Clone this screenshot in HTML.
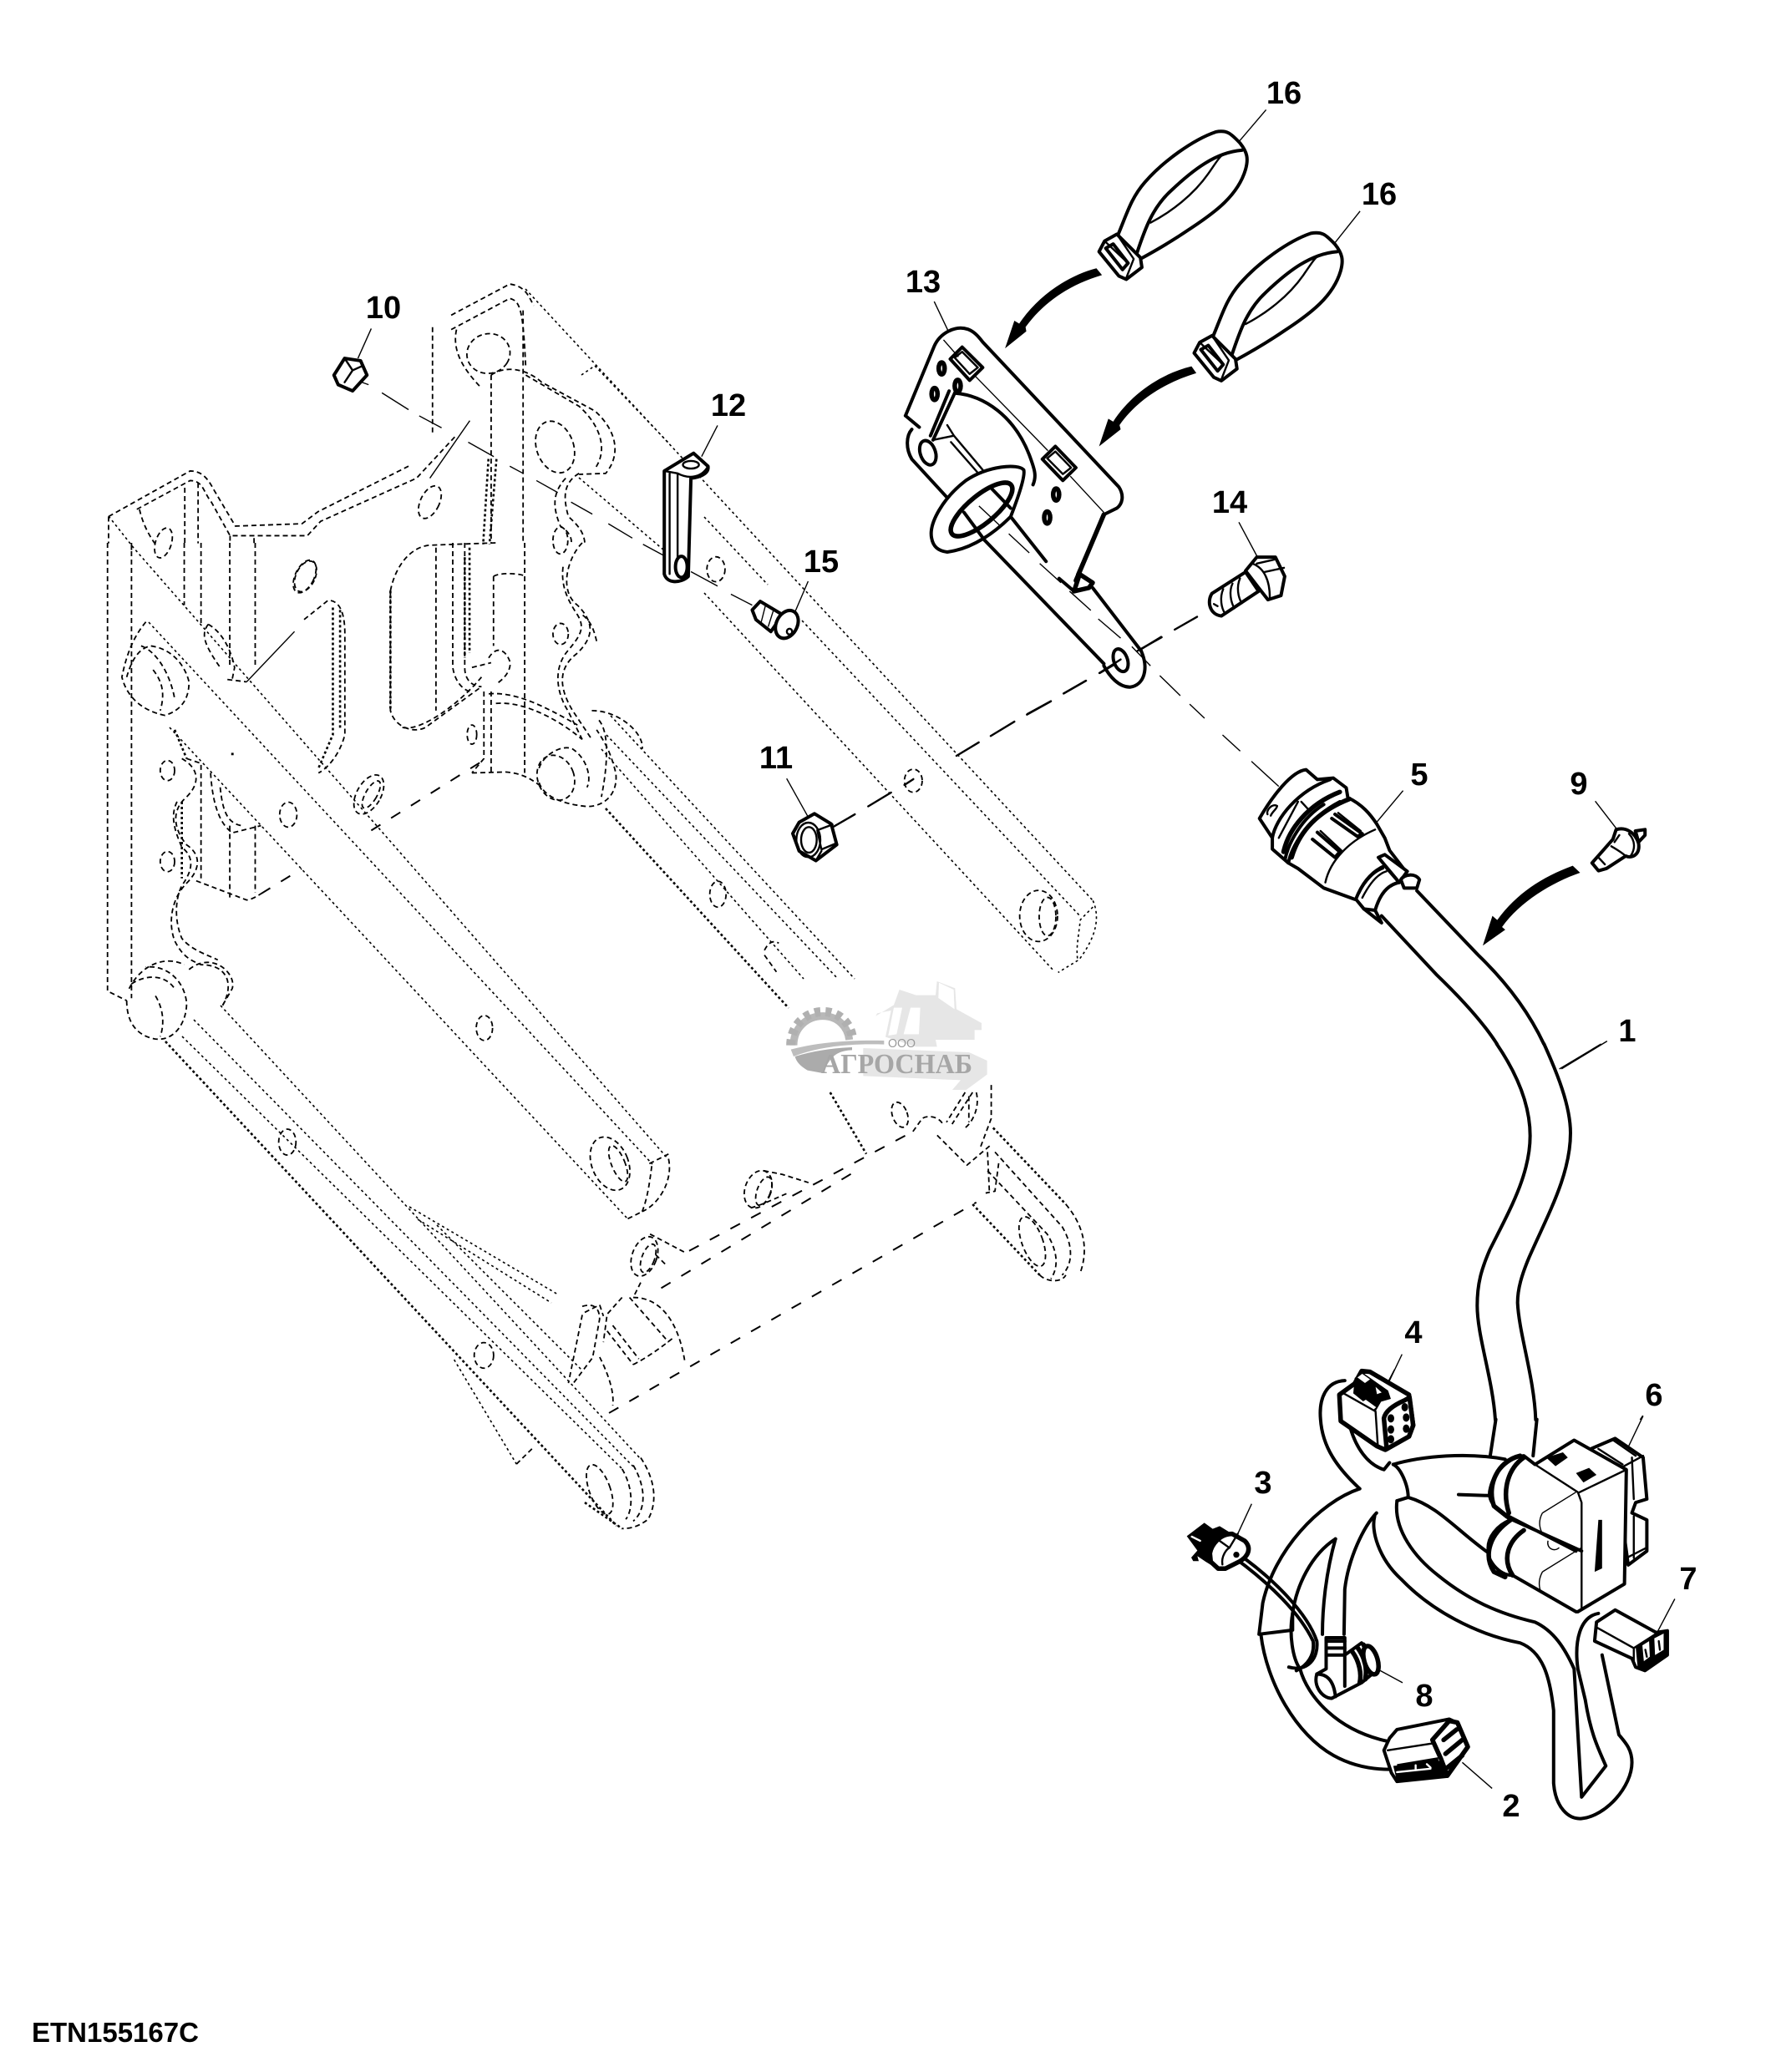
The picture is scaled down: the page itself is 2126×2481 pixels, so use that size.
<!DOCTYPE html>
<html><head><meta charset="utf-8"><style>
html,body{margin:0;padding:0;background:#fff}
svg{display:block}
svg *{vector-effect:non-scaling-stroke}
g{fill:none;stroke:#000;stroke-linecap:butt;stroke-linejoin:round}
.k{stroke-width:4;stroke-linecap:round}.m{stroke-width:2.4;stroke-linecap:round}.l{stroke-width:1.4}
.K{stroke-width:5.5;stroke-linecap:round}
.d{stroke-width:1.6;stroke-dasharray:3 3.5}
.dd{stroke-width:1.8;stroke-dasharray:6 4}
.t{stroke-width:2.6;stroke-dasharray:3 3}
.bd{stroke-width:2;stroke-dasharray:13 15}
.w{fill:#fff}.b{fill:#000;stroke:none}
text.n{font:bold 38px "Liberation Sans",sans-serif;fill:#000;stroke:none;text-anchor:middle}
</style></head><body>
<svg xmlns="http://www.w3.org/2000/svg" width="2126" height="2481" viewBox="0 0 2126 2481">
<rect width="2126" height="2481" fill="#fff"/>

<!-- FRAME: long lines in true px -->
<g>
<g class="d">
<path d="M629 346L1308 1078M696 449L712 438L800 530M843 619L919 700M960 743L1293 1097M843 710L1262 1163M693 572L795 659"/>
<path d="M731 857L1023 1172M726 880L1003 1172M720 897L962 1172"/>
<path d="M130 618L160 656L800 1388M178 745L781 1394M203 871L751 1459"/>
<path d="M264 1204L767 1747M232 1221L758 1756M218 1241L745 1759"/>
<path d="M490 1445L668 1550M500 1460L660 1560M523 1467L697 1641"/>
</g>
<path class="t" d="M198 1247L738 1827"/>
<path class="t" d="M725 968L944 1207"/>
</g>

<!-- FRAME upper (zoom3 space) -->
<g transform="translate(100,320) scale(.6378,.574)">
<g class="dd">
<path d="M47 520V576M90 590V576"/>
<path d="M47 520L200 425C225 425 235 445 245 465L285 540L410 535L440 510L610 415"/>
<path d="M100 505L200 445C225 445 225 470 240 490L275 560L420 560L445 530L625 440L700 350"/>
<path d="M105 505C110 530 120 555 135 578M190 460V576M215 450V576M320 565V576M275 560V576"/>
<path d="M655 125V350M690 100L800 35C830 40 835 60 845 80M690 130L800 65C820 70 825 90 830 210"/>
<path d="M700 130C690 180 720 220 745 250M765 225V576M825 90V576"/>
<path d="M765 225C790 205 830 210 860 240L960 300C1000 340 1010 390 980 430L930 432"/>
<path d="M830 225L930 290C970 330 985 380 960 420"/>
<path d="M930 430C900 450 900 480 910 520C930 540 940 555 941 578"/>
<path d="M905 440C880 470 880 500 895 540C910 550 918 565 915 578"/>
<ellipse cx="150" cy="575" rx="15" ry="32" transform="rotate(15 150 575)"/>
<ellipse cx="415" cy="645" rx="18" ry="36" transform="rotate(22 415 645)"/>
<ellipse cx="650" cy="490" rx="18" ry="36" transform="rotate(22 650 490)"/>
<ellipse cx="885" cy="375" rx="35" ry="55" transform="rotate(-15 885 375)"/>
<ellipse cx="760" cy="180" rx="40" ry="42" transform="rotate(30 760 180)"/>
<ellipse cx="895" cy="570" rx="14" ry="28"/>
<ellipse cx="1187" cy="630" rx="17" ry="26"/>
</g>
<path class="t" d="M760 400L750 578M775 400L762 578"/>
<path class="l" d="M650 440L725 320"/>
<path class="l" d="M510 235L535 245M560 262L610 297M630 310L672 335M722 365L770 395M800 415L825 430M850 445L890 470M915 490L955 515M985 535L1030 565M1050 578L1090 602M1140 635L1190 665M1215 682L1255 705"/>
<!-- nut 10 -->
<path class="k w" d="M470 225L490 190L520 195L532 225L505 258L478 245Z"/>
<path class="m" d="M490 190L505 215L490 240M505 215L525 205"/>
<path class="l" d="M540 128L515 190"/>
<!-- clip 12 -->
<path class="k w" d="M1090 425L1145 388L1172 415C1175 435 1145 440 1140 440L1135 645C1120 660 1095 660 1090 640Z"/>
<path class="m" d="M1100 430V640M1115 430C1135 442 1160 440 1172 415M1115 430V610M1090 425L1115 430"/>
<ellipse class="m" cx="1140" cy="412" rx="15" ry="8"/>
<ellipse class="k w" cx="1122" cy="625" rx="11" ry="22"/>
<path class="l" d="M1190 330L1160 395"/>
<!-- bolt 15 -->
<path class="k w" d="M1255 715L1270 697L1312 725L1290 760L1262 735Z"/>
<path class="l" d="M1280 705L1272 740M1295 715L1285 750"/>
<ellipse class="k w" cx="1320" cy="745" rx="20" ry="30" transform="rotate(20 1320 745)"/>
<ellipse class="m" cx="1325" cy="760" rx="5" ry="6"/>
<path class="l" d="M1360 655L1335 720"/>
</g>

<!-- FRAME mid (crop A space) -->
<g transform="translate(100,650) scale(.574)">
<g class="dd">
<path d="M50 0V935L90 955M100 0V950"/>
<path d="M210 0V130M245 0V170M305 0V255M358 0V260M260 170C280 180 305 210 315 260L310 285"/>
<path d="M300 285L340 290M460 160L510 120C540 120 545 160 545 190V400C535 440 510 470 490 480"/>
<path d="M130 165C105 195 90 230 80 280C90 320 120 350 170 360C200 350 220 330 220 290C210 250 180 220 140 215C115 220 100 245 90 280"/>
<path d="M120 215C150 225 180 270 190 325M145 265C165 290 170 315 160 350"/>
<path d="M260 170C245 190 250 210 285 260"/>
<ellipse cx="463" cy="70" rx="20" ry="34" transform="rotate(25 463 70)"/>
<ellipse cx="595" cy="525" rx="25" ry="45" transform="rotate(30 595 525)"/>
<ellipse cx="600" cy="525" rx="12" ry="32" transform="rotate(30 600 525)"/>
<ellipse cx="175" cy="475" rx="15" ry="21"/><ellipse cx="175" cy="665" rx="15" ry="21"/>
<ellipse cx="836" cy="1012" rx="17" ry="26"/><ellipse cx="427" cy="567" rx="18" ry="26"/><ellipse cx="425" cy="1250" rx="18" ry="27"/>
<ellipse cx="1323" cy="733" rx="17" ry="27"/>
<ellipse cx="995" cy="190" rx="16" ry="22"/><ellipse cx="810" cy="400" rx="10" ry="20"/>
<path d="M205 450C240 470 245 500 215 530C180 560 190 600 215 630C245 650 245 680 215 710C185 740 175 790 190 830C205 860 220 870 245 880C300 880 315 920 290 965"/>
<path d="M215 450L245 460V700M195 540C180 570 190 600 205 635C230 655 230 680 205 715C190 745 190 790 205 825C225 850 260 860 280 870"/>
<path d="M305 590V740M358 590V730M235 705L340 745C350 745 365 735 370 732"/>
<path d="M265 480C270 560 290 590 310 605L370 590M285 510C290 560 300 585 330 590"/>
<path d="M640 100C650 50 680 10 720 5L860 0M640 100V350C650 390 700 400 720 380L830 300"/>
<path d="M665 385C700 395 780 340 830 280M735 10V350M770 0V260C775 290 790 305 805 310M795 0V260C795 290 815 300 830 300M855 70C870 60 920 65 920 70M855 70V215M920 0V480"/>
<path d="M835 310V450L810 480M850 310V480M810 480L880 478C910 480 930 490 950 505"/>
<path d="M845 315C900 310 960 340 1030 380M860 335C910 330 980 360 1040 410"/>
<path d="M845 240C860 215 880 220 890 250C890 270 875 285 860 295M810 260L850 250"/>
<path d="M1040 0C1010 30 990 100 1030 130C1070 170 1060 200 1030 230C990 260 990 300 1020 350L1060 410M1070 205C1065 185 1060 165 1040 150M1000 50C995 90 1010 120 1030 150C1045 175 1040 190 1010 225C980 260 985 310 1010 350L1040 410"/>
<ellipse cx="985" cy="490" rx="38" ry="48" transform="rotate(-20 985 490)"/>
<path d="M950 470C960 440 1000 420 1020 430C1050 450 1060 490 1050 510M950 500C960 530 1000 545 1050 550C1090 550 1115 520 1110 480C1100 440 1090 420 1070 390"/>
<path d="M1060 350C1120 350 1170 400 1165 430M1075 370C1100 400 1090 480 1080 530"/>
<path d="M1420 850C1430 830 1440 830 1450 835M1420 860L1445 895"/>
<path d="M90 955C90 1010 120 1030 150 1035C190 1040 215 1000 215 960C210 910 170 880 130 885M95 930C120 880 170 860 210 880M100 920C130 900 170 900 190 930M150 945C165 970 170 1000 160 1030"/>
<path d="M220 890C270 850 320 900 310 930L290 965"/>
</g>
<path class="t" d="M640 100V350M795 30V240M805 10V230M520 135V400L490 470M535 140V390M205 540V700"/>
<path class="l" d="M340 290L440 185"/>
<path class="bd" d="M600 600L840 450M370 732L455 680"/>
<path class="t" d="M190 390L215 450"/>
<path class="b" d="M308 438h5v5h-5z"/>
<!-- arm1 end -->
<g class="dd">
<path d="M1220 1285C1230 1330 1200 1380 1165 1395M1185 1300C1180 1340 1175 1370 1165 1395M1135 1410L1165 1395M1180 1295L1220 1275"/>
<ellipse cx="1098" cy="1295" rx="38" ry="58" transform="rotate(-22 1098 1295)"/>
<ellipse cx="1115" cy="1295" rx="14" ry="40" transform="rotate(-22 1115 1295)"/>
</g>
</g>

<!-- FRAME lower-left (zoom6 space) -->
<g transform="translate(100,1100) scale(.8292,.5102)">
<path class="d" d="M535 1035L625 1280"/>
<g class="dd">
<ellipse cx="578" cy="1025" rx="14" ry="30"/>
<path d="M625 1280L650 1240"/>
<path d="M720 910C740 900 745 920 745 940L735 1030L705 1095M720 930L710 1010L700 1090"/>
</g>
</g>

<!-- FRAME lower-right (crop B space) -->
<g transform="translate(700,1250) scale(.4464)">
<path class="bd" d="M280 555L880 235M205 655L720 345M65 990L1050 425"/>
<path class="t" d="M658 130L755 295M1040 430L1220 620M0 1230L100 1300M1095 225L1290 430"/>
<g class="dd">
<ellipse cx="465" cy="390" rx="35" ry="52" transform="rotate(20 465 390)"/>
<ellipse cx="480" cy="395" rx="18" ry="40" transform="rotate(20 480 395)"/>
<path d="M480 340L530 350L600 372M445 440C480 430 520 410 545 400"/>
<ellipse cx="160" cy="570" rx="33" ry="55" transform="rotate(20 160 570)"/>
<ellipse cx="170" cy="575" rx="17" ry="40" transform="rotate(20 170 575)"/>
<path d="M175 510L270 560M190 565L220 595M150 640L130 680"/>
<path d="M130 680C200 680 250 740 268 850M120 680L225 800M60 770L130 860M75 755L145 845M130 860C170 840 210 810 235 790M100 680L60 725L50 800M40 840C60 880 80 930 75 970"/>
<path d="M0 720L40 700L50 730"/>
<ellipse cx="845" cy="190" rx="20" ry="35" transform="rotate(-20 845 190)"/>
<path d="M880 235L905 200C920 190 950 195 960 215"/>
<path d="M1090 110V200L1060 280M1050 130C1060 170 1040 210 1020 225M1020 130L970 210M1040 130L985 215M945 245L1025 325L1090 270M1080 290L1085 395M1110 320L1100 395L1075 400M1030 140V210"/>
<path d="M150 1110C190 1170 195 1230 170 1275C150 1290 130 1300 100 1300M130 1130C165 1190 165 1250 130 1280M100 1140C130 1190 130 1250 110 1275"/>
<ellipse cx="40" cy="1195" rx="28" ry="70" transform="rotate(-20 40 1195)"/>
<path d="M1290 430C1340 490 1350 550 1330 610M1100 290L1280 490C1310 540 1310 590 1280 620M1080 340L1240 510C1270 560 1270 600 1250 630M1220 620C1240 640 1280 640 1290 620"/>
<ellipse cx="1200" cy="530" rx="28" ry="70" transform="rotate(-20 1200 530)"/>
</g>
</g>

<!-- axis, arm 3 end & nut 11 (zoom8 space) -->
<g transform="translate(900,600) scale(.3333,.3827)">
<g class="d"><path d="M1225 1250C1250 1300 1240 1360 1175 1435L1100 1475M1225 1270L1180 1310C1170 1380 1165 1400 1170 1435"/></g>
<g class="dd">
<ellipse cx="580" cy="875" rx="32" ry="36"/>
<ellipse cx="1030" cy="1298" rx="68" ry="80"/>
<ellipse cx="1062" cy="1300" rx="30" ry="60"/>
</g>
<path class="m" d="M1470 425L1395 465M1325 500L1250 538M1200 562L1120 602M1073 627L988 668M943 690L858 735M815 755L735 797M500 912L418 955M370 980L295 1018M580 870L548 888"/>
<path class="k w" d="M147 1040L170 1005L225 978L285 1010L305 1075L230 1125L170 1095Z"/>
<ellipse class="m" cx="203" cy="1060" rx="43" ry="54"/>
<ellipse class="m" cx="205" cy="1060" rx="28" ry="40"/>
<path class="m" d="M235 1030L290 1012M235 1030L250 1090M250 1090L305 1070M230 1125L250 1095"/>
<path class="l" d="M125 868L200 985"/>
</g>

<!-- BRACKET, straps, bolt (zoom1 space) -->
<g transform="translate(1000,60) scale(.4464,.5102)">
<g>
<path class="k" d="M750 450C780 390 790 350 830 310C880 260 960 210 1020 192C1050 187 1060 195 1085 218C1105 240 1108 255 1100 280C1080 340 1020 380 950 420C900 450 860 470 818 490"/>
<path class="k" d="M808 478C830 420 850 370 900 330C960 280 1020 240 1090 235"/>
<path class="m" d="M845 405C900 380 960 340 1000 290C1020 265 1030 250 1040 245"/>
<path class="k w" d="M707 473L722 448L755 432L818 487L822 510L780 538L760 530Z"/>
<path class="k w" d="M725 465L745 455L785 500L770 515Z"/>
<path class="m" d="M755 432L800 490L780 535M722 448L785 500"/>
</g>
<path class="l" d="M1155 140L1082 215"/>
<g transform="translate(255,238)">
<path class="k" d="M750 450C780 390 790 350 830 310C880 260 960 210 1020 192C1050 187 1060 195 1085 218C1105 240 1108 255 1100 280C1080 340 1020 380 950 420C900 450 860 470 818 490"/>
<path class="k" d="M808 478C830 420 850 370 900 330C960 280 1020 240 1090 235"/>
<path class="m" d="M845 405C900 380 960 340 1000 290C1020 265 1030 250 1040 245"/>
<path class="k w" d="M707 473L722 448L755 432L818 487L822 510L780 538L760 530Z"/>
<path class="k w" d="M725 465L745 455L785 500L770 515Z"/>
<path class="m" d="M755 432L800 490L780 535M722 448L785 500"/>
</g>
<path class="l" d="M1407 378L1337 455"/>
<path class="b" d="M700 512L715 528C630 550 560 590 510 650L512 660L455 700L480 635L493 642C540 580 620 530 700 512Z"/>
<path class="b" d="M955 742L968 758C885 780 810 820 762 880L765 890L707 930L732 865L745 872C790 810 870 760 955 742Z"/>
<!-- plate -->
<path class="k" d="M188 858L265 695C280 665 320 645 355 655C370 660 380 668 395 685L760 1025C775 1045 770 1065 755 1075L720 1090L650 1230"/>
<path class="k" d="M188 858L225 885M205 890C190 905 188 935 205 960L310 1060"/>
<path class="k" d="M320 805L262 915M305 800L255 905"/>
<path class="k" d="M320 805C400 810 480 860 520 950C535 985 540 1000 530 1020"/>
<path class="m" d="M300 880L318 905L262 915M310 920L395 1005M318 905L395 985"/>
<path class="k" d="M400 1150L720 1440M470 1095L565 1200M600 1240L640 1270M690 1262L820 1410"/>
<path class="k" d="M720 1445C735 1470 760 1495 790 1495C830 1490 840 1450 820 1410"/>
<path class="K" d="M640 1270L655 1230L690 1250L680 1262L640 1270"/>
<path class="K" d="M720 1090L645 1245"/>
<ellipse class="k w" cx="765" cy="1432" rx="18" ry="28" transform="rotate(-25 765 1432)"/>
<ellipse class="k w" cx="248" cy="945" rx="20" ry="30" transform="rotate(-25 248 945)"/>
<path class="k w" d="M258 1145C250 1110 290 1050 350 1010C410 975 490 970 505 985C510 1000 490 1050 470 1095C430 1130 370 1170 300 1178C275 1175 262 1165 258 1145Z"/>
<ellipse class="K w" cx="392" cy="1078" rx="98" ry="34" transform="rotate(-35 392 1078)"/>
<path class="k" d="M345 1085L400 1150M420 1030L470 1075"/>
<path class="k w" d="M308 725L340 697L395 745L360 775Z"/><path class="m" d="M320 722L340 708L382 745L360 760Z"/>
<path class="k w" d="M555 960L590 930L645 980L610 1010Z"/><path class="m" d="M568 958L590 942L632 980L610 995Z"/>
<g class="K">
<ellipse cx="285" cy="747" rx="8" ry="14"/><ellipse cx="266" cy="807" rx="8" ry="14"/><ellipse cx="328" cy="788" rx="8" ry="14"/>
<ellipse cx="592" cy="1043" rx="8" ry="14"/><ellipse cx="568" cy="1097" rx="8" ry="14"/>
</g>
<path class="l" d="M265 590L303 660M290 680L330 720M375 765L570 940M630 1000L720 1085"/>
<path class="l" d="M385 1070L440 1115M465 1135L520 1180M548 1205L605 1250M628 1270L685 1315M705 1335L765 1380M795 1400L845 1445M870 1468L925 1515M950 1535L990 1568"/>
<path class="m" d="M970 1330L910 1360M875 1378L810 1410M765 1430L708 1462M672 1480L612 1510M578 1528L515 1558"/>
<!-- bolt 14 -->
<path class="k w" d="M1100 1225L1010 1275C995 1295 1005 1325 1035 1328L1135 1270Z"/>
<path class="m" d="M1040 1265C1030 1285 1035 1310 1045 1322M1065 1252C1055 1270 1060 1295 1070 1310M1085 1240C1075 1260 1080 1285 1090 1298M1015 1300L1025 1305"/>
<path class="k w" d="M1100 1222L1130 1190L1180 1190L1205 1235L1195 1280L1160 1290L1135 1262Z"/>
<path class="m" d="M1118 1205C1150 1215 1165 1245 1165 1285M1130 1205L1180 1195M1150 1225L1203 1215"/>
<path class="l" d="M1082 1108L1132 1190"/>
</g>

<!-- watermark -->
<g transform="translate(900,1150) scale(.3333)" style="stroke:none">
<path fill="#e6e6e6" stroke="none" d="M445 200L510 160L530 105L590 125L660 125L665 75L730 100L735 175L825 225L825 250L800 250L800 285L660 285L665 310L590 310L480 275L500 180L450 190ZM400 315L780 330L845 360L845 410L770 465L720 465L750 430L400 415Z"/>
<path fill="#fff" stroke="none" d="M510 170L490 270L520 265L540 170ZM570 170L545 265L600 265L605 170ZM670 135L672 80L725 105L728 175Z"/>
<path fill="none" stroke="#b8b8b8" style="stroke-width:9px" d="M150 305C150 240 200 200 255 200C310 200 345 240 350 285"/>
<path fill="none" stroke="#b0b0b0" style="stroke-width:11px;stroke-dasharray:7 6" d="M140 305C140 232 195 184 255 184C320 184 358 232 362 285"/>
<path fill="#bdbdbd" stroke="none" d="M140 320C230 295 350 285 475 288L475 302C350 298 240 310 150 345Z"/>
<path fill="#ababab" stroke="none" d="M155 345C220 325 290 315 360 312L360 322C300 325 280 350 255 405L200 395C175 380 160 365 155 345Z"/>
</g>
<text x="1063" y="1254" font-family="Liberation Sans,sans-serif" font-size="15" fill="#9a9a9a" textLength="33" lengthAdjust="spacingAndGlyphs">ООО</text>
<text x="983" y="1285" font-family="Liberation Serif,serif" font-size="34" fill="#a6a6a6" font-weight="bold" textLength="181" lengthAdjust="spacingAndGlyphs">АГРОСНАБ</text>

<!-- connector 5 & upper tube (zoom4 space) -->
<g transform="translate(1450,880) scale(.3846,.3333)">
<path class="k" d="M640 560L830 790C920 890 990 1000 1035 1110"/>
<path class="k" d="M530 650L700 860C790 960 850 1040 889 1110"/>
<path class="k w" d="M515 320L540 370L555 415L605 490L480 600L445 590L350 550L270 480L240 460L190 410L190 370L150 300C190 220 250 130 295 125L330 160L380 155L420 190L425 225C470 250 495 285 515 320Z"/>
<path class="k" d="M240 460C250 400 300 300 400 240M190 370C200 300 270 200 370 160M230 445C240 390 280 300 350 250"/>
<path class="K" d="M225 420C240 340 300 250 400 205M250 440C270 360 320 280 430 230"/>
<path class="m" d="M210 370L270 240M280 240L300 265"/>
<path class="m" d="M355 530C370 450 430 380 510 340"/>
<path class="k" d="M330 350L400 420L385 440L315 375M385 285L470 355L455 365L375 300"/>
<path class="m" d="M340 345L405 415M395 280L465 345"/>
<path class="m" d="M175 285C170 270 190 245 205 255C205 265 190 275 185 290"/>
<path class="k w" d="M450 590C470 530 500 490 540 470L585 530C540 540 520 590 510 630L475 625Z"/>
<path class="m" d="M460 570C480 520 510 490 535 480M470 585C490 540 515 500 545 490"/>
<path class="k w" d="M520 440L540 430L610 490L585 530Z"/>
<path class="k w" d="M590 520C600 500 635 495 648 520L640 550L600 550Z"/>
<path class="k" d="M475 625L530 675L510 630"/>
<path class="l" d="M35 0L90 58M125 95L210 185M597 200L510 320M1195 238L1260 335M1232 1100L1090 1200"/>
<path class="b" d="M1125 470L1148 495C1060 530 960 600 905 690L915 700L845 757L875 650L890 665C950 570 1030 510 1125 470Z"/>
<path class="k w" d="M1320 345L1350 340L1350 360L1330 385Z"/>
<path class="k w" d="M1260 340C1290 330 1320 350 1330 390C1335 430 1310 445 1290 435L1230 480L1205 488L1185 460L1250 375Z"/>
<path class="m" d="M1205 440L1225 465M1245 400C1260 410 1275 420 1290 435M1300 355C1320 380 1320 410 1305 435M1255 385L1270 360"/>
</g>

<!-- mid tube (zoom9 space) -->
<g transform="translate(1650,1250) scale(.3333,.3333)">
<path class="k" d="M425 0C500 110 545 220 545 330C545 470 470 600 400 740C370 810 355 860 355 940C355 1050 410 1200 420 1350"/>
<path class="k" d="M595 0C640 100 690 220 690 320C690 470 610 610 540 770C515 830 500 880 500 930C505 1040 560 1200 565 1350"/>
<path class="l" d="M800 0L650 90M85 1115L35 1220M950 1335L940 1350"/>
</g>

<!-- lower harness (zoom2 space) -->
<g transform="translate(1400,1600) scale(.4464,.4149)">
<path class="k" d="M875 240L860 345M985 240L975 345"/>
<path class="k" d="M600 370C680 345 800 335 900 355"/>
<path class="k" d="M590 365L575 385C530 370 500 320 485 265"/>
<path class="k" d="M470 128C420 130 400 180 405 240C410 320 450 380 510 440"/>
<path class="k" d="M510 440C400 480 280 620 250 770L240 860L330 848L330 800"/>
<path class="k" d="M445 585C380 630 340 720 330 800C320 860 330 930 350 960C370 1040 450 1140 590 1170"/>
<path class="k" d="M245 860C260 1000 340 1150 440 1210C490 1240 540 1250 590 1250"/>
<path class="k" d="M555 510C520 550 480 640 470 730L468 860M445 585C420 680 410 780 410 860"/>
<path class="k" d="M550 520C540 560 560 640 620 700C700 790 820 860 940 885C1000 910 1020 980 1030 1080L1030 1290C1035 1360 1070 1395 1105 1392C1170 1385 1240 1300 1240 1230C1240 1190 1220 1170 1205 1150L1160 920"/>
<path class="k" d="M610 475C600 560 660 640 720 690C800 760 880 800 980 825C1030 850 1060 900 1085 960L1105 1330L1170 1240C1150 1190 1130 1150 1115 1050L1095 960C1085 880 1100 810 1150 800"/>
<path class="k" d="M640 465C640 430 620 380 600 370M610 475L640 465C720 490 770 560 855 625M775 457L860 460"/>
<!-- block 6 -->
<path class="k w" d="M1130 325L1195 295L1270 350L1280 470L1250 480L1240 510L1280 530L1280 620L1230 660L1210 500Z"/>
<path class="m" d="M1150 325L1215 370M1190 300L1250 345M1240 350L1245 470M1210 380L1270 345M1245 520V640M1225 640L1280 610"/>
<path class="k w" d="M980 370L1085 300L1225 385L1220 715L1095 795L1090 795L920 690C880 690 850 640 855 620C850 580 880 545 915 530C880 500 850 480 860 440C870 390 910 350 950 345Z"/>
<path class="m" d="M980 370L1095 450L1105 480V790M1100 450L1225 385"/>
<path class="K" d="M940 345C880 360 850 430 870 490L905 520M950 350C910 380 890 440 910 510M915 530C860 570 840 630 870 680L900 695M950 560C910 590 890 640 920 690"/>
<path class="k" d="M910 520L1090 620M920 530L1105 620"/>
<path class="l" d="M1000 510C990 530 990 550 1000 570L1050 600M1000 510L1090 450M1000 680C990 700 990 720 995 735M1000 680L1105 610M1015 590C1010 610 1030 625 1045 610"/>
<path class="b" d="M1150 530L1160 530L1160 670L1140 680Z"/>
<path class="b" d="M1010 350L1055 335L1068 350L1035 375ZM1090 395L1125 380L1145 400L1110 422Z"/>
<path class="l" d="M1270 230L1230 320"/>
<!-- wire 3 -->
<path class="k" d="M180 625C280 700 370 800 395 880C400 930 370 970 320 955M175 640C270 715 350 800 385 880C390 920 370 950 340 965"/>
<!-- conn 8 -->
<path class="k w" d="M420 870L470 870L470 920L515 885L560 960L515 1000L435 1045C410 1045 385 1010 395 975L420 960Z"/>
<path class="k" d="M420 880H470M420 900H470M420 920H465M470 920V1010"/>
<path class="k" d="M395 975C420 975 440 990 445 1040"/>
<g class="K"><path d="M490 910C510 940 515 975 510 1000M505 900C525 930 530 960 525 990M520 890C540 920 545 950 540 975"/></g>
<ellipse class="K w" cx="540" cy="935" rx="18" ry="42" transform="rotate(-15 540 935)"/>
<path class="l" d="M565 965L625 1000"/>
<!-- conn 2 -->
<path class="k w" d="M590 1160L610 1135L750 1105L770 1115L800 1185L745 1270L610 1285L595 1260L575 1195Z"/>
<path class="m" d="M585 1195L705 1175M610 1135L590 1160"/>
<path class="K w" d="M705 1165L750 1110L772 1115L800 1185L745 1268L728 1220Z"/>
<path class="K" d="M735 1165L770 1135M740 1205L785 1165M745 1245L785 1210"/>
<path class="b" d="M600 1240L725 1225L745 1265L610 1285ZM610 1235L720 1215L722 1230L610 1245Z"/>
<path class="m" style="stroke:#fff" d="M610 1258L700 1248M660 1238V1250M690 1235L700 1245"/>
<path class="l" d="M785 1230L865 1305"/>
<!-- conn 7 -->
<path class="k w" d="M1145 825L1195 790L1305 855L1335 850L1335 920L1275 965L1250 955L1240 930L1140 880Z"/>
<path class="m" d="M1145 840L1245 900L1310 855M1245 900V945"/>
<path class="b" d="M1250 895L1310 852L1337 848L1337 920L1275 967L1255 952Z"/>
<path fill="#fff" stroke="none" d="M1268 892L1286 880L1288 925L1272 938ZM1300 872L1325 858L1325 905L1302 920Z"/>
<path class="m" d="M1276 905L1280 925M1312 880L1315 905"/>
<path class="l" d="M1355 758L1310 850"/>
</g>

<!-- conn 3, conn 4 (zoom10 space) -->
<g transform="translate(1400,1640) scale(.3333)">
<path class="b" d="M62 598L125 550L155 572L180 562L225 590C170 610 145 640 145 670L150 700L175 718L130 690L100 670L105 688L85 688L78 675L100 650Z"/>
<path class="m" style="stroke:#fff" d="M80 600L110 615"/>
<path class="K w" d="M145 660C150 630 180 590 225 590L270 615C295 640 285 670 250 690L200 715L175 715L148 690Z"/>
<path class="m" d="M180 615L215 640L245 590M190 700C185 670 205 645 215 640"/>
<ellipse cx="240" cy="665" rx="11" ry="11" fill="#000" stroke="none"/>
<path class="l" d="M295 482L245 590"/>
<path class="K w" d="M610 90L665 50L690 5L720 8L860 90L875 200L860 240L775 288L745 275L615 185Z"/>
<path class="b" d="M665 30L690 8L785 75L795 105L760 115L740 150L660 85Z"/>
<path fill="#fff" stroke="none" d="M675 28L692 15L720 35L702 48ZM740 62L762 82L745 88ZM688 118L705 108L742 135L730 146Z"/>
<path class="m" d="M625 85L740 150L748 272"/>
<path class="K w" d="M770 175C775 150 800 130 845 110L862 100L875 200L860 240L780 285Z"/>
<g class="b"><ellipse cx="795" cy="175" rx="12" ry="15"/><ellipse cx="795" cy="215" rx="12" ry="15"/><ellipse cx="795" cy="250" rx="12" ry="15"/><ellipse cx="845" cy="135" rx="12" ry="15"/><ellipse cx="850" cy="172" rx="12" ry="15"/><ellipse cx="850" cy="212" rx="12" ry="15"/></g>
<path class="l" d="M808 0L782 50"/>
</g>

<!-- labels -->
<text class="n" x="1537" y="124">16</text>
<text class="n" x="1651" y="245">16</text>
<text class="n" x="1105" y="350">13</text>
<text class="n" x="1472" y="614">14</text>
<text class="n" x="459" y="381">10</text>
<text class="n" x="872" y="498">12</text>
<text class="n" x="983" y="685">15</text>
<text class="n" x="929" y="920">11</text>
<text class="n" x="1699" y="940">5</text>
<text class="n" x="1890" y="951">9</text>
<text class="n" x="1948" y="1247">1</text>
<text class="n" x="1692" y="1608">4</text>
<text class="n" x="1980" y="1683">6</text>
<text class="n" x="1512" y="1788">3</text>
<text class="n" x="2021" y="1903">7</text>
<text class="n" x="1705" y="2043">8</text>
<text class="n" x="1809" y="2175">2</text>
<text x="38" y="2445" font-family="Liberation Sans,sans-serif" font-weight="bold" font-size="33" fill="#000">ETN155167C</text>
</svg>
</body></html>
